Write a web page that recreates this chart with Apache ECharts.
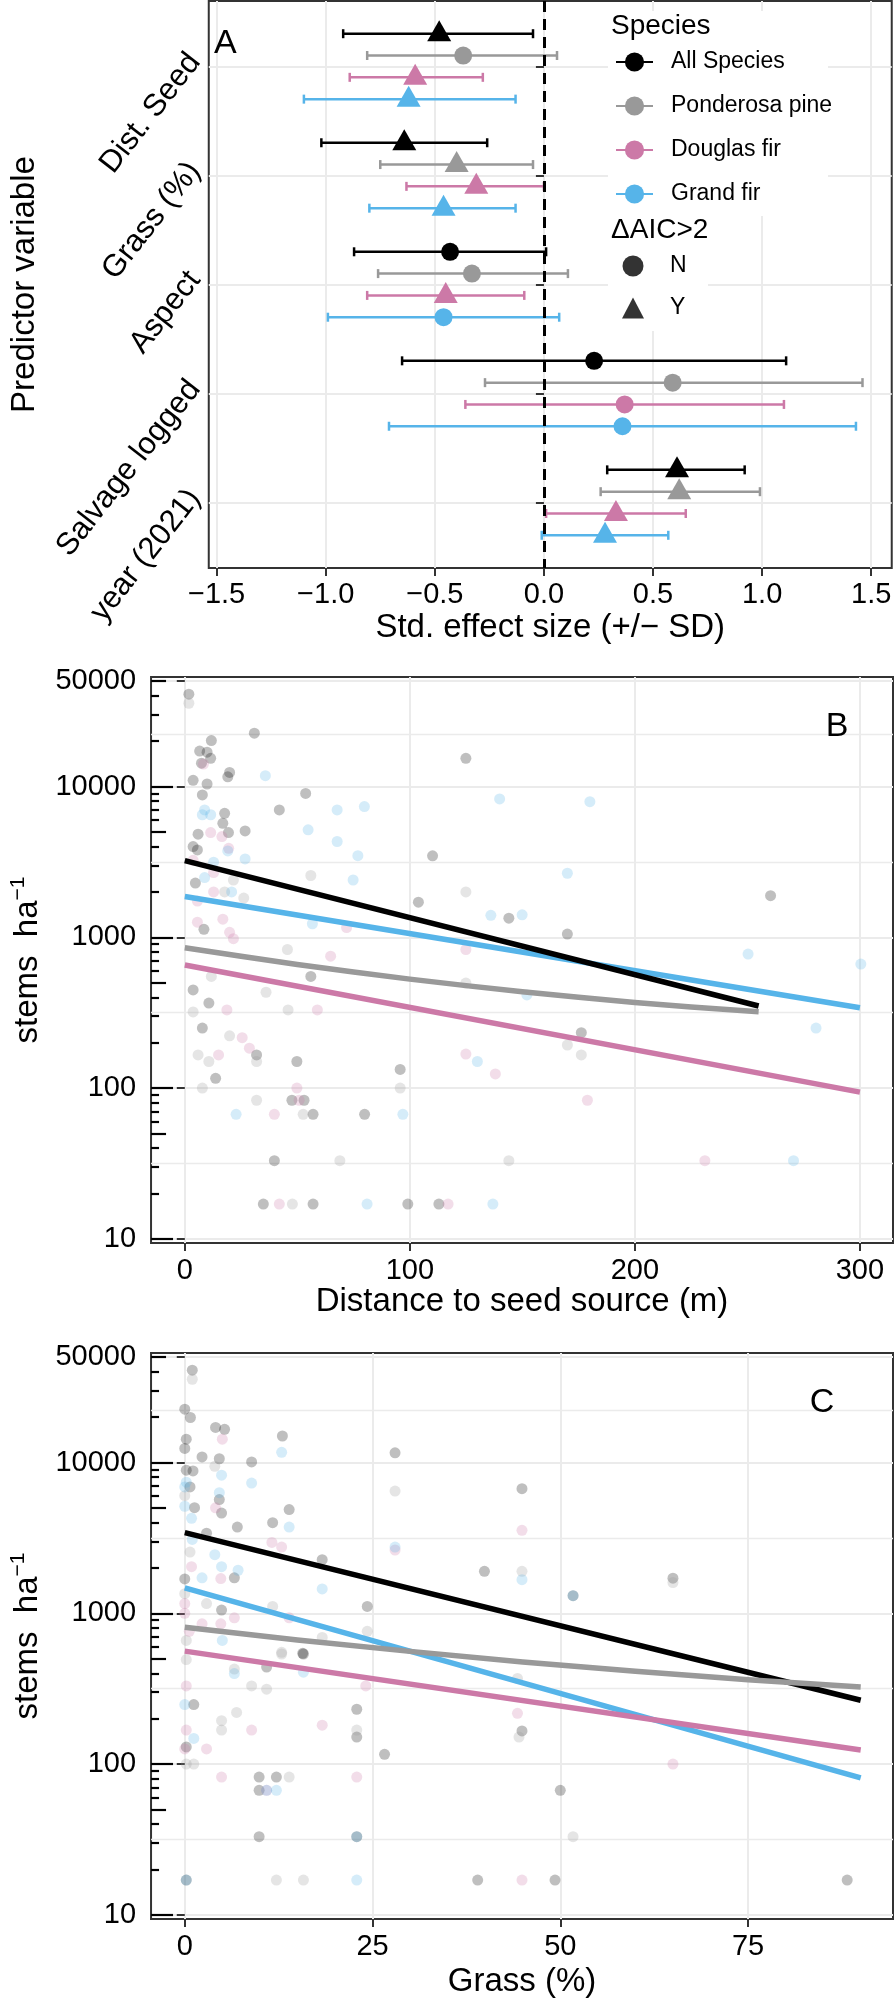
<!DOCTYPE html>
<html><head><meta charset="utf-8">
<script src="https://cdn.jsdelivr.net/npm/echarts@6/dist/echarts.min.js"></script>
<style>html,body{margin:0;padding:0;background:#fff}#c{width:894px;height:2000px}</style>
</head><body><div id="c"></div>
<script>
// ---------------- DATA ----------------
const predictors = ['Dist. Seed', 'Grass (%)', 'Aspect', 'Salvage logged', 'year (2021)'];
const speciesNames = ['All Species', 'Ponderosa pine', 'Douglas fir', 'Grand fir'];
const sigNames = ['N', 'Y'];

// Panel A: standardized effect sizes (+/- SD), one entry per predictor
const estAll = [-0.48, -0.64, -0.43, 0.23, 0.61];
const loAll  = [-0.92, -1.02, -0.87, -0.65, 0.29];
const hiAll  = [-0.05, -0.26, 0.01, 1.11, 0.92];
const sigAll = ['Y', 'Y', 'N', 'N', 'Y'];
const estPonderosa = [-0.37, -0.40, -0.33, 0.59, 0.62];
const loPonderosa  = [-0.81, -0.75, -0.76, -0.27, 0.26];
const hiPonderosa  = [0.06, -0.05, 0.11, 1.46, 0.99];
const sigPonderosa = ['N', 'Y', 'N', 'N', 'Y'];
const estDouglas = [-0.59, -0.31, -0.45, 0.37, 0.33];
const loDouglas  = [-0.89, -0.63, -0.81, -0.36, 0.01];
const hiDouglas  = [-0.28, 0.00, -0.09, 1.10, 0.65];
const sigDouglas = ['Y', 'Y', 'Y', 'N', 'Y'];
const estGrand = [-0.62, -0.46, -0.46, 0.36, 0.28];
const loGrand  = [-1.10, -0.80, -0.99, -0.71, -0.01];
const hiGrand  = [-0.13, -0.13, 0.07, 1.43, 0.57];
const sigGrand = ['Y', 'Y', 'N', 'N', 'Y'];

// Panel B: [distance to seed source (m), stems/ha]
const bAll = [[1.8,41000],[11.8,20200],[30.9,22600],[6.6,17200],[9.9,16900],[7.4,14300],[11.5,15400],[3.7,11000],[9.9,10400],[7.8,8800],[19.1,11600],[19.9,12400],[53.7,9000],[42,7000],[17.7,6650],[16.9,5700],[19.4,4950],[26.8,5080],[5.9,4830],[3.7,4000],[5.6,3800],[4.7,2290],[8.5,1130],[103.8,1710],[110.1,3470],[124.9,15400],[144,1340],[170,1050],[260.3,1890],[56,550],[3.7,448],[10.7,366],[7.8,250],[31.9,166],[49.8,150],[95.7,133],[13.7,116],[47.6,83],[53,83],[57,67],[79.9,67],[39.8,33],[34.9,17],[57,17],[99.1,17],[112.9,17],[176.2,233]];
const bPonderosa = [[1.8,35700],[56,2570],[21.6,2400],[17.7,2000],[26.2,1820],[45.6,830],[124.9,2000],[11.8,550],[36.1,432],[3.7,320],[45.9,330],[19.9,222],[5.9,166],[10.7,150],[31.9,150],[7.8,100],[95.7,100],[31.9,83],[52.6,67],[68.9,33],[47.8,17],[124.9,497],[170,193],[176.2,166],[144,33]];
const bDouglas = [[11.5,4950],[16.5,4660],[19.5,3890],[3.7,3240],[12.8,2690],[12.8,2000],[5.6,1740],[5.6,1260],[16.9,1320],[19.9,1080],[21.6,980],[64.8,750],[71.9,1160],[8.3,14100],[124.9,830],[18.7,330],[58.9,330],[25.5,216],[28.7,184],[15,166],[49.8,100],[50.8,83],[39.8,67],[42,17],[124.9,168],[138,124],[178.9,83],[231.1,33],[117,17]];
const bGrand = [[35.8,11800],[67.7,7000],[79.8,7360],[54.8,5160],[67.7,4320],[76.9,3480],[74.8,2400],[8.8,7000],[7.8,6500],[11.5,6500],[19.1,3740],[26.8,3310],[12.8,3150],[8.8,2490],[20.8,2000],[56.7,1230],[139.9,8280],[180,7940],[170,2660],[136,1400],[149.9,1410],[250.3,774],[300.4,665],[22.8,67],[96.9,67],[81,17],[130,150],[152,415],[136.9,17],[270.5,33],[280.5,250]];
// Panel B fitted curves
const bFitAll = [[0,3230],[255,350]];
const bFitPonderosa = [[0,853],[25,748],[50,661],[75,589],[100,528],[125,478],[150,436],[175,400],[200,370],[225,345],[255,321]];
const bFitDouglas = [[0,655],[300,94]];
const bFitGrand = [[0,1866],[300,341]];

// Panel C: [grass cover (%), stems/ha]
const cAll = [[1,41000],[0,22600],[0.75,19900],[4.1,17100],[5.3,16600],[0.2,14300],[0,12400],[2.3,10900],[4.6,10600],[8.9,10100],[13,15000],[28,11600],[0.2,8900],[1.1,8800],[0.7,6890],[4.6,5680],[1.3,5020],[4.9,4620],[13.9,4880],[11.7,3990],[7,3730],[2.9,3400],[18.3,2270],[6.6,1720],[0,1690],[4.9,1050],[24.3,1110],[15.7,543],[44.9,6710],[39.9,1900],[51.7,1310],[65,1710],[1.2,248],[0.2,130],[10.9,440],[15.8,537],[9.9,82],[12.2,82],[9.9,67],[9.9,33],[0.2,17],[22.9,231],[22.9,151],[26.6,116],[22.9,33],[44.9,166],[50,67],[39,17],[49.3,17],[88.2,17]];
const cPonderosa = [[1,35700],[4,9440],[28,6470],[0,6030],[0.7,2550],[2.9,1160],[11.7,1110],[0,1350],[12.9,551],[18.3,692],[24.3,759],[0.2,661],[6.6,427],[44.9,1900],[65,1600],[0.2,493],[4.9,194],[4.9,168],[6.9,220],[8.9,330],[10.9,314],[12.9,537],[0.2,100],[1.2,100],[13.9,82],[12.2,17],[15.8,17],[22.9,168],[44.3,370],[44.5,151],[51.7,33]];
const cDouglas = [[5,14300],[4.1,5010],[11.6,2950],[12.9,2750],[28,2630],[0.9,2040],[4.8,1700],[0,1160],[0,1000],[6.6,933],[0.6,759],[2.3,851],[4.8,851],[13.9,933],[44.9,3550],[0.2,330],[0.2,168],[0,126],[2.9,126],[8.9,168],[4.9,82],[18.3,181],[24.1,330],[22.9,82],[44.3,217],[65,100],[44.9,17],[10.9,67]];
const cGrand = [[12.9,11700],[0.2,7410],[0,6890],[4.9,8240],[8.9,7310],[4.6,6310],[0,5130],[0.9,4270],[13.9,3730],[1,3090],[4,2450],[4.9,2040],[7.1,1930],[2.3,1720],[18.3,1450],[28,2750],[5,661],[44.9,1670],[51.7,1310],[0,248],[1.2,148],[6.6,398],[15.8,407],[10.9,67],[12.2,67],[0.2,17],[22.9,33],[22.9,17]];
// Panel C fitted curves
const cFitAll = [[0,3430],[90,265]];
const cFitPonderosa = [[0,807],[15,666],[30,559],[45,476],[60,412],[75,363],[90,324]];
const cFitDouglas = [[0,561],[90,124]];
const cFitGrand = [[0,1476],[90,81]];

// Tick values
const xTicksA = [-1.5, -1, -0.5, 0, 0.5, 1, 1.5];
const yTicksA = [1, 2, 3, 4, 5];
const xTicksB = [0, 100, 200, 300];
const xTicksC = [0, 25, 50, 75];
const yTicksLog = [10, 100, 1000, 10000, 50000];
const yMinorGrid = [31.62, 316.2, 3162, 22360];
const logTicksLong = [10, 100, 1000, 10000];
const logTicksMid = [50, 500, 5000, 50000];
const logTicksShort = [20,30,40,60,70,80,90,200,300,400,600,700,800,900,2000,3000,4000,6000,7000,8000,9000,20000,30000,40000];

// ---------------- STYLE ----------------
const FONT = '"Liberation Sans", Arial, Helvetica, sans-serif';
const colors = ['#000000', '#999999', '#CC79A7', '#56B4E9'];
const dodge = [-0.3, -0.1, 0.1, 0.3];
const GRID = '#EBEBEB';
const AX = '#333333';
const TICKFONT = 29;

const chart = echarts.init(document.getElementById('c'), null, {width: 894, height: 2000});

const estA = [estAll, estPonderosa, estDouglas, estGrand];
const loA = [loAll, loPonderosa, loDouglas, loGrand];
const hiA = [hiAll, hiPonderosa, hiDouglas, hiGrand];
const sigA = [sigAll, sigPonderosa, sigDouglas, sigGrand];

function tickAxisStyle(vals) {
  return {show: true, length: 8, lineStyle: {color: AX, width: 2}, customValues: vals};
}

const xAxes = [
  {gridIndex: 0, type: 'value', min: -1.536, max: 1.594,
   axisLine: {show: false},
   axisTick: tickAxisStyle(xTicksA),
   axisLabel: {customValues: xTicksA, fontSize: TICKFONT, color: '#000', margin: 12, fontFamily: FONT,
     formatter: v => (v < 0 ? '\u2212' : '') + Math.abs(v).toFixed(1)},
   splitLine: {show: true, lineStyle: {color: GRID, width: 2}},
   name: 'Std. effect size (+/\u2212 SD)', nameLocation: 'middle', nameGap: 43,
   nameTextStyle: {fontSize: 33, color: '#000', fontFamily: FONT}},
  {gridIndex: 1, type: 'value', min: -15, max: 314.7,
   axisLine: {show: false},
   axisTick: tickAxisStyle(xTicksB),
   axisLabel: {customValues: xTicksB, fontSize: TICKFONT, color: '#000', margin: 13, fontFamily: FONT},
   splitLine: {show: true, lineStyle: {color: GRID, width: 2}},
   name: 'Distance to seed source (m)', nameLocation: 'middle', nameGap: 42,
   nameTextStyle: {fontSize: 33, color: '#000', fontFamily: FONT}},
  {gridIndex: 2, type: 'value', min: -4.49, max: 94.3,
   axisLine: {show: false},
   axisTick: tickAxisStyle(xTicksC),
   axisLabel: {customValues: xTicksC, fontSize: TICKFONT, color: '#000', margin: 13, fontFamily: FONT},
   splitLine: {show: true, lineStyle: {color: GRID, width: 2}},
   name: 'Grass (%)', nameLocation: 'middle', nameGap: 46,
   nameTextStyle: {fontSize: 33, color: '#000', fontFamily: FONT}}
];

function logAxes(gi) {
  const base = {gridIndex: gi, type: 'log', logBase: 10, min: 9.38, max: 53300, position: 'left', offset: 0};
  return [
    Object.assign({}, base, {
      axisLine: {show: false},
      axisTick: tickAxisStyle(yTicksLog),
      axisLabel: {customValues: yTicksLog, fontSize: TICKFONT, color: '#000', margin: 15, fontFamily: FONT,
        formatter: v => String(Math.round(v))},
      splitLine: {show: true, lineStyle: {color: GRID, width: 2}},
      name: '{a|stems  ha}{s|\u22121}', nameLocation: 'middle', nameGap: 100,
      nameTextStyle: {fontFamily: FONT, color: '#000', rich: {
        a: {fontSize: 33, lineHeight: 40, fontFamily: FONT, color: '#000'},
        s: {fontSize: 21, lineHeight: 40, verticalAlign: 'top', fontFamily: FONT, color: '#000'}}}
    }),
    Object.assign({}, base, {
      axisLine: {show: false}, axisLabel: {show: false},
      axisTick: {show: false, customValues: yMinorGrid},
      splitLine: {show: true, lineStyle: {color: GRID, width: 1.3}}
    }),
    Object.assign({}, base, {
      axisLine: {show: false}, axisLabel: {show: false}, splitLine: {show: false},
      axisTick: {show: true, inside: true, length: 22, lineStyle: {color: '#000', width: 2.2}, customValues: logTicksLong}
    }),
    Object.assign({}, base, {
      axisLine: {show: false}, axisLabel: {show: false}, splitLine: {show: false},
      axisTick: {show: true, inside: true, length: 15, lineStyle: {color: '#000', width: 2.2}, customValues: logTicksMid}
    }),
    Object.assign({}, base, {
      axisLine: {show: false}, axisLabel: {show: false}, splitLine: {show: false},
      axisTick: {show: true, inside: true, length: 8, lineStyle: {color: '#000', width: 2.2}, customValues: logTicksShort}
    })
  ];
}

const yAxes = [
  {gridIndex: 0, type: 'value', inverse: true, min: 0.4, max: 5.6, position: 'left',
   axisLine: {show: false},
   axisTick: tickAxisStyle(yTicksA),
   axisLabel: {customValues: yTicksA, rotate: 52, fontSize: 31, color: '#000', margin: 2, fontFamily: FONT,
     verticalAlign: 'bottom', align: 'right',
     formatter: v => predictors[Math.round(v) - 1]},
   splitLine: {show: true, lineStyle: {color: GRID, width: 2}},
   name: 'Predictor variable', nameLocation: 'middle', nameGap: 162,
   nameTextStyle: {fontSize: 33, color: '#000', fontFamily: FONT}}
].concat(logAxes(1), logAxes(2));

const series = [];
// legend helper series (line + point key)
speciesNames.forEach((n, i) => {
  series.push({name: n, type: 'line', xAxisIndex: 0, yAxisIndex: 0, data: [],
    symbol: 'circle', symbolSize: 18, color: colors[i], lineStyle: {width: 2.5, color: colors[i]}, itemStyle: {color: colors[i]}});
});
sigNames.forEach((n, i) => {
  series.push({name: n, type: 'scatter', xAxisIndex: 0, yAxisIndex: 0, data: [],
    symbol: i === 0 ? 'circle' : 'triangle', color: '#000', itemStyle: {color: '#000'}});
});

// Panel A error bars + points
speciesNames.forEach((n, s) => {
  const col = colors[s];
  const ebData = predictors.map((p, k) => [loA[s][k], hiA[s][k], k + 1 + dodge[s]]);
  series.push({
    type: 'custom', xAxisIndex: 0, yAxisIndex: 0, z: 3,
    encode: {x: [0, 1], y: 2},
    data: ebData,
    renderItem: function (params, api) {
      const a = api.coord([api.value(0), api.value(2)]);
      const b = api.coord([api.value(1), api.value(2)]);
      const h = 4.5;
      const st = {stroke: col, lineWidth: 2.5};
      return {type: 'group', children: [
        {type: 'line', shape: {x1: a[0], y1: a[1], x2: b[0], y2: b[1]}, style: st},
        {type: 'line', shape: {x1: a[0], y1: a[1] - h, x2: a[0], y2: a[1] + h}, style: st},
        {type: 'line', shape: {x1: b[0], y1: b[1] - h, x2: b[0], y2: b[1] + h}, style: st}
      ]};
    }
  });
  series.push({
    type: 'scatter', xAxisIndex: 0, yAxisIndex: 0, z: 4,
    itemStyle: {color: col, opacity: 1},
    data: predictors.map((p, k) => {
      const tri = sigA[s][k] === 'Y';
      return {value: [estA[s][k], k + 1 + dodge[s]],
        symbol: tri ? 'triangle' : 'circle',
        symbolSize: tri ? [24, 21] : 18,
        symbolOffset: tri ? [0, -3] : [0, 0]};
    })
  });
});
// zero reference line
series.push({
  type: 'line', xAxisIndex: 0, yAxisIndex: 0, data: [], z: 5,
  markLine: {silent: true, symbol: ['none', 'none'], label: {show: false},
    lineStyle: {color: '#000', width: 3, type: [11, 7]}, data: [{xAxis: 0}]}
});

// Panels B and C
function addScatterPanel(xi, yi, pts, fits) {
  const ptOpacity = 0.25;
  pts.forEach((d, s) => {
    series.push({type: 'scatter', xAxisIndex: xi, yAxisIndex: yi, data: d, symbolSize: 11, z: 2,
      itemStyle: {color: colors[s], opacity: ptOpacity}});
  });
  [3, 2, 0, 1].forEach(s => {
    series.push({type: 'line', xAxisIndex: xi, yAxisIndex: yi, data: fits[s], showSymbol: false, symbol: 'none', z: 3,
      lineStyle: {color: colors[s], width: 5.5, cap: 'butt', join: 'round'}, itemStyle: {color: colors[s]}});
  });
}
addScatterPanel(1, 1, [bAll, bPonderosa, bDouglas, bGrand], [bFitAll, bFitPonderosa, bFitDouglas, bFitGrand]);
addScatterPanel(2, 6, [cAll, cPonderosa, cDouglas, cGrand], [cFitAll, cFitPonderosa, cFitDouglas, cFitGrand]);

const option = {
  animation: false,
  backgroundColor: '#ffffff',
  textStyle: {fontFamily: FONT},
  grid: [
    {left: 196, top: 1, width: 697, height: 567, show: true, borderColor: AX, borderWidth: 2, backgroundColor: '#fff'},
    {left: 146, top: 677, width: 747, height: 566, show: true, borderColor: AX, borderWidth: 2, backgroundColor: '#fff'},
    {left: 146, top: 1353, width: 747, height: 566, show: true, borderColor: AX, borderWidth: 2, backgroundColor: '#fff'}
  ],
  xAxis: xAxes,
  yAxis: yAxes,
  legend: [
    {data: speciesNames, orient: 'vertical', left: 615, top: 50, padding: 0, itemWidth: 37, itemHeight: 24, itemGap: 20,
     selectedMode: false, z: 20,
     textStyle: {fontSize: 23, color: '#000', fontFamily: FONT, lineHeight: 24, padding: [0, 0, 0, 13]}},
    {data: sigNames, orient: 'vertical', left: 622, top: 254, padding: 0, itemWidth: 22, itemHeight: 21, itemGap: 18,
     selectedMode: false, z: 20,
     textStyle: {fontSize: 23, color: '#000', fontFamily: FONT, lineHeight: 24, padding: [0, 0, 0, 21]}}
  ],
  graphic: [
    {type: 'rect', z: 10, shape: {x: 608, y: 11, width: 220, height: 205}, style: {fill: '#fff'}},
    {type: 'rect', z: 10, shape: {x: 608, y: 216, width: 100, height: 115}, style: {fill: '#fff'}},
    {type: 'text', z: 21, x: 611, y: 26, style: {text: 'Species', fontSize: 28, fontFamily: FONT, fill: '#000', align: 'left', verticalAlign: 'middle'}},
    {type: 'text', z: 21, x: 611, y: 230, style: {text: '\u0394AIC>2', fontSize: 28, fontFamily: FONT, fill: '#000', align: 'left', verticalAlign: 'middle'}},
    {type: 'text', z: 21, x: 214, y: 44, style: {text: 'A', fontSize: 34, fontFamily: FONT, fill: '#000', align: 'left', verticalAlign: 'middle'}},
    {type: 'text', z: 21, x: 837, y: 727, style: {text: 'B', fontSize: 34, fontFamily: FONT, fill: '#000', align: 'center', verticalAlign: 'middle'}},
    {type: 'text', z: 21, x: 822, y: 1403, style: {text: 'C', fontSize: 34, fontFamily: FONT, fill: '#000', align: 'center', verticalAlign: 'middle'}}
  ],
  series: series
};
chart.setOption(option);
</script></body></html>
